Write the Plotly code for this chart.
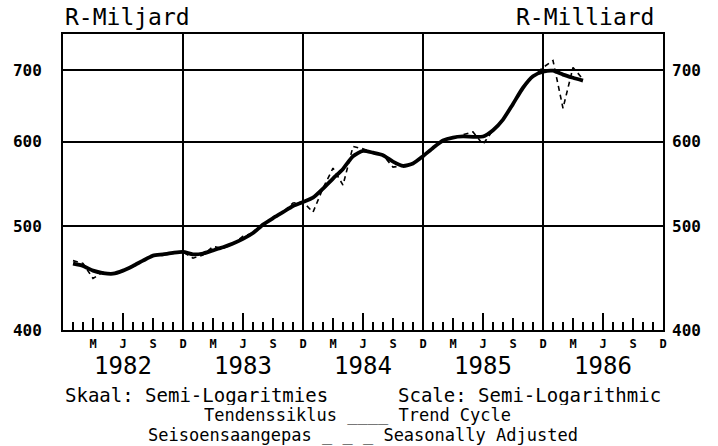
import math
import plotly.graph_objects as go

# ---------------- data (R billion, monthly, Jan 1982 .. Apr 1986) ----------------
trend = [461.4, 459.2, 454.6, 452.2, 451.6, 454.6, 459.2, 464.5, 469.5, 470.8, 472.3, 473.3,
         470.8, 471.7, 474.9, 478.1, 482.0, 486.8, 493.0, 502.0, 509.0, 515.6, 522.6, 527.1,
         532.0, 542.5, 554.3, 566.0, 581.7, 588.5, 586.2, 583.0, 575.0, 569.6, 572.7, 581.7,
         592.2, 601.7, 605.6, 607.0, 606.6, 607.0, 615.3, 629.5, 651.1, 674.2, 691.0, 697.8,
         699.4, 693.6, 688.9, 684.7]
seas_adj = [464.5, 461.8, 447.0, 453.2, 451.6, 454.6, 459.2, 464.5, 469.5, 470.8, 472.3, 473.3,
            467.0, 470.2, 478.8, 477.1, 481.4, 489.5, 493.0, 502.0, 509.0, 515.6, 526.0, 527.1,
            515.6, 543.0, 566.9, 546.6, 594.0, 591.0, 586.2, 583.0, 568.3, 569.6, 572.7, 581.7,
            592.2, 601.7, 605.6, 609.0, 613.0, 596.8, 615.3, 629.5, 651.1, 674.2, 691.0, 704.2,
            715.0, 645.1, 704.2, 686.7]
month_index = list(range(1, len(trend) + 1))      # 1 = Jan 1982, 12 = Dec 1982, ...

quarter_ticks = list(range(3, 61, 3))
quarter_labels = ["M", "J", "S", "D"] * 5
year_centres = [6, 18, 30, 42, 54]
year_labels = ["1982", "1983", "1984", "1985", "1986"]
dec_lines = [12, 24, 36, 48]
y_ticks = [400, 500, 600, 700]
y_labels = ["400", "500", "600", "700"]
y_min, y_max = 400, 757

FONT = "DejaVu Sans Mono"

fig = go.Figure()
fig.add_trace(go.Scatter(x=month_index, y=seas_adj, mode="lines",
                         line=dict(color="black", width=1.6, dash="5px,4px"),
                         showlegend=False))
fig.add_trace(go.Scatter(x=month_index, y=trend, mode="lines",
                         line=dict(color="black", width=3.8, shape="spline", smoothing=0.6),
                         showlegend=False))
# helper (invisible) traces so the overlay axes are drawn
fig.add_trace(go.Scatter(x=month_index, y=trend, mode="none", xaxis="x2", yaxis="y2",
                         hoverinfo="skip", showlegend=False))
fig.add_trace(go.Scatter(x=month_index, y=trend, mode="none", xaxis="x3", yaxis="y",
                         hoverinfo="skip", showlegend=False))

yr = [math.log10(y_min), math.log10(y_max)]
tickfont_y = dict(family=FONT, size=16, color="black", weight="bold")

fig.update_layout(
    width=718, height=446,
    margin=dict(l=63, r=55, t=34, b=116),
    paper_bgcolor="white", plot_bgcolor="white",
    xaxis=dict(range=[0, 60], tickmode="array", tickvals=quarter_ticks, ticktext=quarter_labels,
               ticks="inside", ticklen=12, tickwidth=2, tickcolor="black",
               showline=True, linewidth=2, linecolor="black", mirror=True,
               showgrid=False, zeroline=False, ticklabelstandoff=2,
               tickfont=dict(family=FONT, size=12, color="black", weight="bold"),
               minor=dict(tickmode="linear", tick0=0, dtick=1, ticks="inside", ticklen=8,
                          tickwidth=2, tickcolor="black", showgrid=False)),
    xaxis2=dict(range=[0, 60], overlaying="x", anchor="y", side="bottom",
                tickmode="array", tickvals=year_centres, ticktext=year_labels,
                ticks="inside", ticklen=17, tickwidth=2, tickcolor="black",
                showline=False, showgrid=False, zeroline=False, ticklabelstandoff=19,
                tickfont=dict(family=FONT, size=24, color="black")),
    xaxis3=dict(range=[0, 60], overlaying="x", anchor="y", side="bottom",
                tickmode="array", tickvals=dec_lines, showticklabels=False, ticks="",
                showline=False, showgrid=True, gridcolor="black", gridwidth=2, zeroline=False),
    yaxis=dict(type="log", range=yr, tickmode="array", tickvals=y_ticks, ticktext=y_labels,
               ticks="", showgrid=True, gridcolor="black", gridwidth=2,
               showline=True, linewidth=2, linecolor="black", mirror=True, zeroline=False,
               ticklabelstandoff=16, tickfont=tickfont_y),
    yaxis2=dict(type="log", range=yr, overlaying="y", side="right", anchor="x",
                tickmode="array", tickvals=y_ticks, ticktext=y_labels, ticks="",
                showgrid=False, showline=False, zeroline=False,
                ticklabelstandoff=8, tickfont=tickfont_y),
)

txt = dict(family=FONT, color="black")
row_h = 20
annotations = [
    dict(text="R-Miljard", x=0.0, y=1.058, xanchor="left", yanchor="middle",
         font=dict(size=23, **txt)),
    dict(text="R-Milliard", x=0.988, y=1.058, xanchor="right", yanchor="middle",
         font=dict(size=23, **txt)),
    dict(text="Skaal: Semi-Logaritmies", x=0.0, y=-0.220, xanchor="left", yanchor="middle",
         font=dict(size=19, **txt), height=row_h),
    dict(text="Scale: Semi-Logarithmic", x=0.555, y=-0.220, xanchor="left", yanchor="middle",
         font=dict(size=19, **txt), height=row_h),
    dict(text="Tendenssiklus ____ Trend Cycle", x=0.49, y=-0.287, xanchor="center",
         yanchor="middle", font=dict(size=17, **txt), height=row_h),
    dict(text="Seisoensaangepas _ _ _ Seasonally Adjusted", x=0.50, y=-0.355,
         xanchor="center", yanchor="middle", font=dict(size=17, **txt), height=row_h),
]
for a in annotations:
    a.update(xref="paper", yref="paper", showarrow=False)
fig.update_layout(annotations=annotations)

fig.write_html("out.html", config={"displayModeBar": False, "staticPlot": True},
               post_script="document.body.style.margin='0px';")
